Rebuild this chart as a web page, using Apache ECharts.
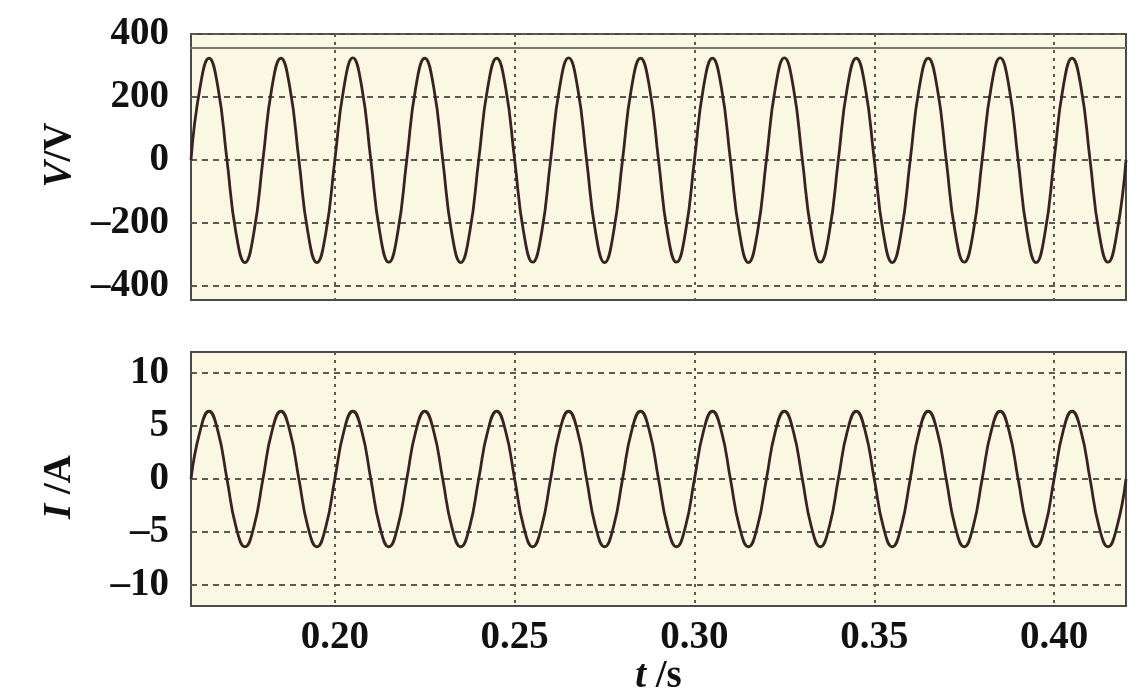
<!DOCTYPE html>
<html>
<head>
<meta charset="utf-8">
<script src="https://cdn.jsdelivr.net/npm/echarts@6/dist/echarts.min.js"></script>
<style>html,body{margin:0;padding:0;background:#fff}#c{width:1143px;height:694px}</style>
</head>
<body>
<div id="c"></div>
<script>
// sampling start and step (s)
const tStart = 0.16;
const tStep = 0.0025;
// voltage V (V), read every 2.5 ms
const voltage = [
  0, 229, 323, 230, 0, -231, -326, -230,
  0, 230, 323, 229, 0, -230, -326, -231,
  0, 229, 324, 230, 0, -230, -325, -230,
  0, 230, 323, 230, 0, -231, -326, -230,
  0, 229, 323, 229, 0, -230, -325, -231,
  0, 230, 324, 230, 0, -230, -326, -230,
  0, 229, 323, 230, 0, -231, -325, -230,
  0, 230, 323, 229, 0, -230, -326, -231,
  0, 229, 324, 230, 0, -230, -325, -230,
  0, 230, 323, 230, 0, -231, -326, -230,
  0, 229, 323, 229, 0, -230, -325, -231,
  0, 230, 324, 230, 0, -230, -326, -230,
  0, 229, 323, 230, 0, -231, -325, -230,
  0
];
// current I (A), read every 2.5 ms
const current = [
  0, 4.5, 6.4, 4.5, 0, -4.5, -6.4, -4.5,
  0, 4.5, 6.4, 4.5, 0, -4.5, -6.4, -4.5,
  0, 4.5, 6.4, 4.5, 0, -4.5, -6.4, -4.5,
  0, 4.5, 6.4, 4.5, 0, -4.5, -6.4, -4.5,
  0, 4.5, 6.4, 4.5, 0, -4.5, -6.4, -4.5,
  0, 4.5, 6.4, 4.5, 0, -4.5, -6.4, -4.5,
  0, 4.5, 6.4, 4.5, 0, -4.5, -6.4, -4.5,
  0, 4.5, 6.4, 4.5, 0, -4.5, -6.4, -4.5,
  0, 4.5, 6.4, 4.5, 0, -4.5, -6.4, -4.5,
  0, 4.5, 6.4, 4.5, 0, -4.5, -6.4, -4.5,
  0, 4.5, 6.4, 4.5, 0, -4.5, -6.4, -4.5,
  0, 4.5, 6.4, 4.5, 0, -4.5, -6.4, -4.5,
  0, 4.5, 6.4, 4.5, 0, -4.5, -6.4, -4.5,
  0
];
const xTicks = [0.20, 0.25, 0.30, 0.35, 0.40];
const vTicks = [-400, -200, 0, 200, 400];
const iTicks = [-10, -5, 0, 5, 10];
const vRefLine = 355;

const times = voltage.map((_, k) => +(tStart + k * tStep).toFixed(5));
const vData = voltage.map((v, k) => [times[k], v]);
const iData = current.map((v, k) => [times[k], v]);

const FONT = "'Liberation Serif', 'Times New Roman', serif";
const FS = 39;
const labelStyle = { fontFamily: FONT, fontWeight: 'bold', fontSize: FS, color: '#111' };
const gridBg = '#faf7e2';
const frameColor = '#4a4a4a';
const hDash = { color: '#5a5a52', width: 2, type: [6, 5] };
const vDot = { color: '#5a5a52', width: 2, type: [3, 5] };
const lineColor = '#3a2222';
const richI = { fontFamily: FONT, fontWeight: 'bold', fontStyle: 'italic', fontSize: FS, color: '#111' };

const chart = echarts.init(document.getElementById('c'), null, { renderer: 'canvas' });
chart.setOption({
  animation: false,
  backgroundColor: '#ffffff',
  grid: [
    { left: 191, top: 34, width: 935, height: 266, show: true, backgroundColor: gridBg, borderColor: frameColor, borderWidth: 2, containLabel: false, outerBoundsMode: 'none' },
    { left: 191, top: 352, width: 935, height: 254, show: true, backgroundColor: gridBg, borderColor: frameColor, borderWidth: 2, containLabel: false, outerBoundsMode: 'none' }
  ],
  xAxis: [
    { type: 'value', gridIndex: 0, min: 0.16, max: 0.42,
      axisLine: { show: false }, axisTick: { show: false, customValues: xTicks },
      axisLabel: { show: false, customValues: xTicks },
      splitLine: { show: true, lineStyle: vDot } },
    { type: 'value', gridIndex: 1, min: 0.16, max: 0.42,
      axisLine: { show: false }, axisTick: { show: false, customValues: xTicks },
      axisLabel: Object.assign({ customValues: xTicks, margin: 12, formatter: v => v.toFixed(2) }, labelStyle),
      splitLine: { show: true, lineStyle: vDot },
      name: '{i|t} /s', nameLocation: 'middle', nameGap: 40,
      nameTextStyle: Object.assign({ rich: { i: richI } }, labelStyle) }
  ],
  yAxis: [
    { type: 'value', gridIndex: 0, min: -445, max: 400,
      axisLine: { show: false }, axisTick: { show: false, customValues: vTicks },
      axisLabel: Object.assign({ customValues: vTicks, margin: 22, formatter: v => v < 0 ? '\u2013' + Math.abs(v) : '' + v }, labelStyle),
      splitLine: { show: true, lineStyle: hDash },
      name: '{i|V}/V', nameLocation: 'middle', nameGap: 112, nameRotate: 90,
      nameTextStyle: Object.assign({ rich: { i: richI }, padding: [0, 0, 0, 24] }, labelStyle) },
    { type: 'value', gridIndex: 1, min: -12, max: 12,
      axisLine: { show: false }, axisTick: { show: false, customValues: iTicks },
      axisLabel: Object.assign({ customValues: iTicks, margin: 22, formatter: v => v < 0 ? '\u2013' + Math.abs(v) : '' + v }, labelStyle),
      splitLine: { show: true, lineStyle: hDash },
      name: '{i|I} /A', nameLocation: 'middle', nameGap: 112, nameRotate: 90,
      nameTextStyle: Object.assign({ rich: { i: richI }, padding: [0, 16, 0, 0] }, labelStyle) }
  ],
  series: [
    { type: 'line', xAxisIndex: 0, yAxisIndex: 0, data: vData, smooth: 0.5, showSymbol: false,
      lineStyle: { color: lineColor, width: 2.8 },
      markLine: { silent: true, symbol: 'none', label: { show: false },
        lineStyle: { color: '#7a7a74', width: 2, type: 'solid' }, data: [{ yAxis: vRefLine }] } },
    { type: 'line', xAxisIndex: 1, yAxisIndex: 1, data: iData, smooth: 0.5, showSymbol: false,
      lineStyle: { color: lineColor, width: 2.8 } }
  ]
});
</script>
</body>
</html>
